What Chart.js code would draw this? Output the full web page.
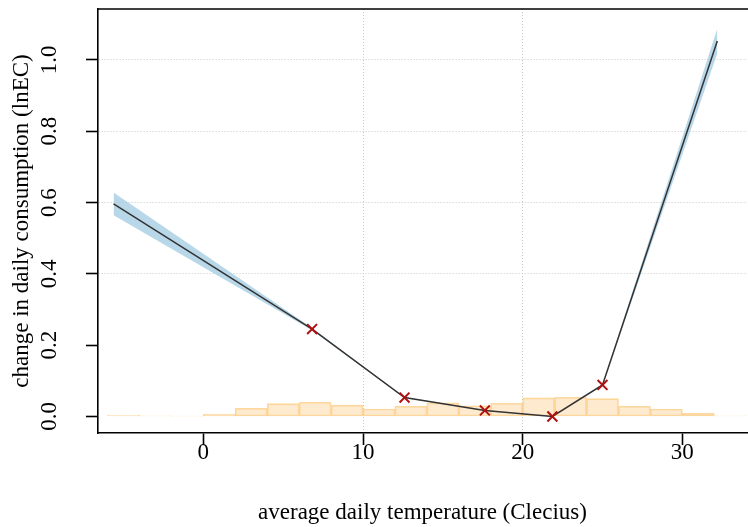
<!DOCTYPE html>
<html><head><meta charset="utf-8">
<script src="https://cdn.jsdelivr.net/npm/chart.js@4"></script>
<style>html,body{margin:0;padding:0;background:#fff;overflow:hidden}#wrap{width:748px;height:527px;overflow:hidden}</style>
</head><body><div id="wrap"><canvas id="c" width="756" height="527"></canvas></div>
<script>
// ---- data ----
const curveTemps  = [-5.625, 6.81, 12.6, 17.63, 21.86, 25.0, 32.19];
const curveValues = [0.596, 0.245, 0.053, 0.017, 0.0, 0.0885, 1.053];
const bandUpper   = [0.628, 0.248, 0.054, 0.0175, 0.0005, 0.0895, 1.088];
const bandLower   = [0.564, 0.242, 0.052, 0.0165, -0.0005, 0.0875, 1.018];
const knotTemps   = [6.81, 12.6, 17.63, 21.86, 25.0];
const knotValues  = [0.245, 0.053, 0.017, 0.0, 0.0885];
const binCenters  = [-5, -3, -1, 1, 3, 5, 7, 9, 11, 13, 15, 17, 19, 21, 23, 25, 27, 29, 31, 33];
const binHeights  = [0.003, 0.002, 0.001, 0.007, 0.023, 0.036, 0.040, 0.032, 0.021, 0.029, 0.038, 0.030, 0.037, 0.052, 0.054, 0.050, 0.029, 0.021, 0.009, 0.002];
const xTicks = [0, 10, 20, 30];
const yTicks = [0, 0.2, 0.4, 0.6, 0.8, 1.0];
const xGridValues = [10, 20];
const yGridValues = [0.4, 0.6, 0.8, 1.0];
const xTitle = "average daily temperature (Clecius)";
const yTitle = "change in daily consumption (lnEC)";

const FONT = "'Liberation Serif', 'Times New Roman', serif";
const pts = (xs, ys) => xs.map((x, i) => ({x: x, y: ys[i]}));

const yLabelPlugin = {
  id: 'yLabels',
  afterDraw(chart) {
    const ctx = chart.ctx, ys = chart.scales.y, a = chart.chartArea;
    ctx.save();
    ctx.fillStyle = '#000';
    ctx.font = "23px " + FONT;
    ctx.textAlign = 'center';
    ctx.textBaseline = 'alphabetic';
    yTicks.forEach(v => {
      const py = ys.getPixelForValue(v);
      ctx.save();
      ctx.translate(56, py);
      ctx.rotate(-Math.PI / 2);
      ctx.fillText(v.toFixed(1), 0, 0);
      ctx.restore();
    });
    // top of the box
    ctx.strokeStyle = '#000';
    ctx.lineWidth = 1.6;
    ctx.beginPath();
    ctx.moveTo(a.left, a.top);
    ctx.lineTo(a.right + 5, a.top);
    ctx.stroke();
    ctx.restore();
  }
};

new Chart(document.getElementById('c'), {
  type: 'scatter',
  data: {
    datasets: [
      { type: 'line', label: 'fit', data: pts(curveTemps, curveValues), borderColor: '#333333', borderWidth: 1.5, pointRadius: 0, fill: false, order: 2 },
      { type: 'line', label: 'upper', data: pts(curveTemps, bandUpper), borderWidth: 0, borderColor: 'rgba(0,0,0,0)', pointRadius: 0, fill: '+1', backgroundColor: 'rgba(166,206,227,0.8)', order: 3 },
      { type: 'line', label: 'lower', data: pts(curveTemps, bandLower), borderWidth: 0, borderColor: 'rgba(0,0,0,0)', pointRadius: 0, fill: false, order: 4 },
      { type: 'scatter', label: 'knots', data: pts(knotTemps, knotValues), pointStyle: 'crossRot', pointRadius: 7, borderColor: '#b01010', borderWidth: 2, order: 1 },
      { type: 'bar', label: 'hist', data: pts(binCenters, binHeights), backgroundColor: 'rgba(253,208,140,0.42)', borderColor: 'rgba(252,200,120,0.7)', borderWidth: 1, borderSkipped: false, barPercentage: 1, categoryPercentage: 1, order: 6 }
    ]
  },
  options: {
    responsive: false,
    animation: false,
    devicePixelRatio: 1,
    layout: { padding: { top: 7, right: 0, left: 0, bottom: 0 } },
    plugins: { legend: { display: false }, tooltip: { enabled: false } },
    scales: {
      x: {
        type: 'linear', min: -6.6, max: 34.05, offset: false,
        afterBuildTicks: s => { s.ticks = xTicks.map(v => ({value: v})); },
        afterFit: s => { s.height = 94; },
        ticks: { color: '#000', font: { family: FONT, size: 23 }, padding: -6, maxRotation: 0, callback: v => String(v) },
        grid: {
          offset: false,
          color: c => (c.tick && xGridValues.includes(c.tick.value)) ? '#c8c8c8' : 'rgba(0,0,0,0)',
          lineWidth: 1, tickLength: 12, tickColor: '#000', tickWidth: 1.6
        },
        border: { display: true, color: '#000', width: 1.6, dash: [1, 2] },
        title: { display: true, text: xTitle, color: '#000', font: { family: FONT, size: 23 }, padding: { top: 0, bottom: 0 } }
      },
      y: {
        type: 'linear', min: -0.0463, max: 1.1426,
        afterBuildTicks: s => { s.ticks = yTicks.map(v => ({value: v})); },
        afterFit: s => { s.width = 98; },
        ticks: { display: false },
        grid: {
          color: c => (c.tick && yGridValues.some(g => Math.abs(g - c.tick.value) < 1e-6)) ? '#c8c8c8' : 'rgba(0,0,0,0)',
          lineWidth: 1, tickLength: 12, tickColor: '#000', tickWidth: 1.6
        },
        border: { display: true, color: '#000', width: 1.6, dash: [1, 2] },
        title: { display: true, text: yTitle, color: '#000', font: { family: FONT, size: 23 }, padding: { top: 8, bottom: 0 } }
      }
    }
  },
  plugins: [yLabelPlugin]
});
</script>
</body></html>
